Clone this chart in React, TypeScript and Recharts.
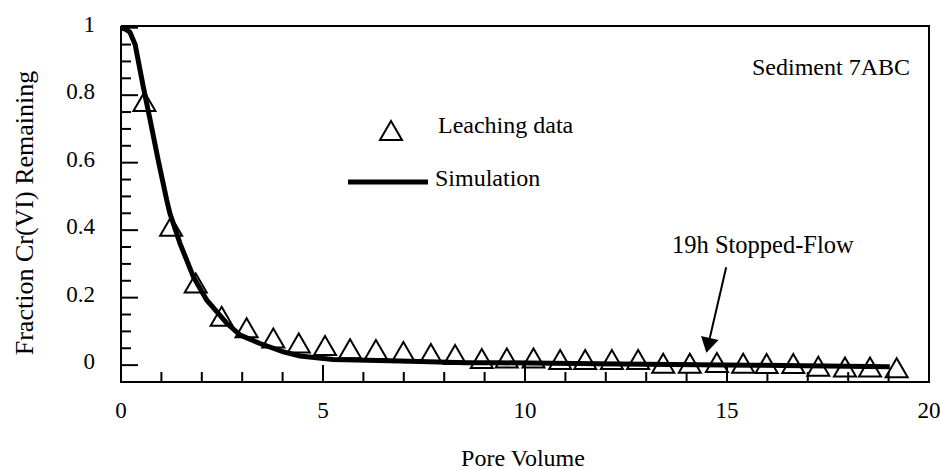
// Cr(VI) leaching curve, sediment 7ABC
import { ReferenceLine, Customized, Scatter, ScatterChart, XAxis, YAxis } from "recharts";

const FONT = '"Liberation Serif", "Times New Roman", serif';

// pore volume / fraction
const leachX = [
  0.58, 1.24, 1.85, 2.49, 3.11, 3.77, 4.4, 5.05, 5.67, 6.31, 6.99, 7.67, 8.27,
  8.93, 9.55, 10.21, 10.87, 11.49, 12.15, 12.8, 13.42, 14.08, 14.75, 15.4,
  15.98, 16.64, 17.26, 17.92, 18.54, 19.2,
];
const leachY = [
  0.78, 0.41, 0.242, 0.143, 0.109, 0.079, 0.064, 0.057, 0.047, 0.045, 0.039,
  0.033, 0.03, 0.018, 0.02, 0.02, 0.015, 0.015, 0.015, 0.015, 0.004, 0.004,
  0.006, 0.004, 0.003, 0.003, -0.005, -0.007, -0.007, -0.009,
];

const simX = [
  0, 0.12, 0.22, 0.35, 0.55, 0.72, 0.92, 1.13, 1.21, 1.46, 1.79, 2.12, 2.62,
  2.95, 3.44, 4.02, 4.43, 5.25, 6.91, 8.56, 9.38, 12.35, 15.57, 19.03,
];
const simY = [
  1.0, 0.995, 0.987, 0.95, 0.826, 0.727, 0.608, 0.49, 0.45, 0.361, 0.262,
  0.193, 0.124, 0.089, 0.064, 0.039, 0.027, 0.017, 0.012, 0.007, 0.007, 0.003,
  0.0, -0.005,
];

const xTicks = [
  0, 1, 2, 3, 4, 5, 6, 7, 8, 9, 10, 11, 12, 13, 14, 15, 16, 17, 18, 19, 20,
];
const xTickLabels = ["0", "5", "10", "15", "20"];
const yTicks = [
  -0.05, 0, 0.05, 0.1, 0.15, 0.2, 0.25, 0.3, 0.35, 0.4, 0.45, 0.5, 0.55, 0.6,
  0.65, 0.7, 0.75, 0.8, 0.85, 0.9, 0.95, 1,
];
const yTickLabels = ["0", "0.2", "0.4", "0.6", "0.8", "1"];

const X_MIN = 0;
const X_MAX = 20;
const Y_MIN = -0.05;
const Y_MAX = 1.005;

const arrowFrom = { x: 14.98, y: 0.29 };
const arrowTo = { x: 14.49, y: 0.037 };

const leachData = leachX.map((x, i) => ({ x, y: leachY[i] }));
const simData = simX.map((x, i) => ({ x, y: simY[i] }));

// plot frame and inward tick marks, placed through the chart's own scales
const frameData = [
  { x: X_MIN, y: Y_MAX },
  { x: X_MAX, y: Y_MAX },
  { x: X_MAX, y: Y_MIN },
  { x: X_MIN, y: Y_MIN },
  { x: X_MIN, y: Y_MAX },
];
const inner = xTicks.filter((v) => v > X_MIN && v < X_MAX);
const xMajor = inner.filter((v) => v % 5 === 0).map((x) => ({ x, y: Y_MIN }));
const xMinor = inner.filter((v) => v % 5 !== 0).map((x) => ({ x, y: Y_MIN }));
const isMajorY = (v: number) => Math.abs(v * 5 - Math.round(v * 5)) < 1e-6;
const yInner = yTicks.filter((v) => v > Y_MIN + 0.01);
const yMajor = yInner.filter(isMajorY).map((y) => ({ x: X_MIN, y }));
const yMinor = yInner.filter((v) => !isMajorY(v)).map((y) => ({ x: X_MIN, y }));

const Tri = ({ cx, cy }: any) => (
  <path
    d={`M${cx},${cy - 10} L${cx + 11},${cy + 9} L${cx - 11},${cy + 9} Z`}
    fill="none"
    stroke="#000"
    strokeWidth={2}
  />
);

const UpTick = (len: number) => ({ cx, cy }: any) => (
  <path d={`M${cx},${cy} L${cx},${cy - len}`} stroke="#000" strokeWidth={2} fill="none" />
);
const RightTick = (len: number) => ({ cx, cy }: any) => (
  <path d={`M${cx},${cy} L${cx + len},${cy}`} stroke="#000" strokeWidth={2} fill="none" />
);

const XTick = ({ x, y, payload }: any) => {
  const label = xTickLabels.find((l) => Number(l) === payload.value);
  if (!label) return <g />;
  return (
    <text x={x} y={y + 36} textAnchor="middle" fontFamily={FONT} fontSize={23} fill="#000">
      {label}
    </text>
  );
};

const YTick = ({ x, y, payload }: any) => {
  const label = yTickLabels.find((l) => Math.abs(Number(l) - payload.value) < 1e-6);
  if (!label) return <g />;
  return (
    <text x={x - 26} y={y + 4} textAnchor="end" fontFamily={FONT} fontSize={23} fill="#000">
      {label}
    </text>
  );
};

const Arrow = ({ x1, y1, x2, y2 }: any) => {
  const dx = x2 - x1;
  const dy = y2 - y1;
  const len = Math.sqrt(dx * dx + dy * dy);
  const ux = dx / len;
  const uy = dy / len;
  const hl = 15;
  const hw = 9;
  const bx = x2 - ux * hl;
  const by = y2 - uy * hl;
  return (
    <g>
      <line x1={x1} y1={y1} x2={bx} y2={by} stroke="#000" strokeWidth={2} />
      <path
        d={`M${x2},${y2} L${bx - uy * hw},${by + ux * hw} L${bx + uy * hw},${by - ux * hw} Z`}
        fill="#000"
      />
    </g>
  );
};

const Texts = () => (
  <g fontFamily={FONT} fill="#000">
    <text x={523} y={466} textAnchor="middle" fontSize={24}>
      Pore Volume
    </text>
    <text x={33} y={213} textAnchor="middle" fontSize={26} transform="rotate(-90 33 213)">
      Fraction Cr(VI) Remaining
    </text>
    <text x={752} y={75} fontSize={24}>
      Sediment 7ABC
    </text>
    <text x={672} y={253} fontSize={24.5}>
      19h Stopped-Flow
    </text>
    <Tri cx={391} cy={131} />
    <text x={438} y={133} fontSize={24}>
      Leaching data
    </text>
    <line x1={348} x2={428} y1={182} y2={182} stroke="#000" strokeWidth={5} />
    <text x={435} y={186} fontSize={24}>
      Simulation
    </text>
  </g>
);

const noDot = () => <g />;

export default function App() {
  return (
    <div style={{ position: "absolute", left: 0, top: 0, background: "#fff" }}>
      <ScatterChart
        width={941}
        height={470}
        margin={{ top: 26, right: 12, bottom: 0, left: 0 }}
      >
        <XAxis
          type="number"
          dataKey="x"
          domain={[X_MIN, X_MAX]}
          ticks={xTicks}
          interval={0}
          height={88}
          tickLine={false}
          tickSize={0}
          tickMargin={0}
          tick={<XTick />}
          axisLine={{ stroke: "#000", strokeWidth: 2 }}
        />
        <YAxis
          type="number"
          dataKey="y"
          domain={[Y_MIN, Y_MAX]}
          ticks={yTicks}
          interval={0}
          width={121}
          tickLine={false}
          tickSize={0}
          tickMargin={0}
          tick={<YTick />}
          axisLine={{ stroke: "#000", strokeWidth: 2 }}
        />
        <Scatter
          data={frameData}
          line={{ stroke: "#000", strokeWidth: 2 }}
          shape={noDot}
          isAnimationActive={false}
        />
        <Scatter data={xMajor} shape={UpTick(17)} isAnimationActive={false} />
        <Scatter data={xMinor} shape={UpTick(10)} isAnimationActive={false} />
        <Scatter data={yMajor} shape={RightTick(17)} isAnimationActive={false} />
        <Scatter data={yMinor} shape={RightTick(10)} isAnimationActive={false} />
        <Scatter
          data={simData}
          line={{ stroke: "#000", strokeWidth: 5 }}
          shape={noDot}
          isAnimationActive={false}
        />
        <Scatter data={leachData} shape={<Tri />} isAnimationActive={false} />
        <ReferenceLine
          segment={[arrowFrom, arrowTo]}
          ifOverflow="visible"
          shape={(p: any) => <Arrow {...p} />}
        />
        <Customized component={<Texts />} />
      </ScatterChart>
    </div>
  );
}
